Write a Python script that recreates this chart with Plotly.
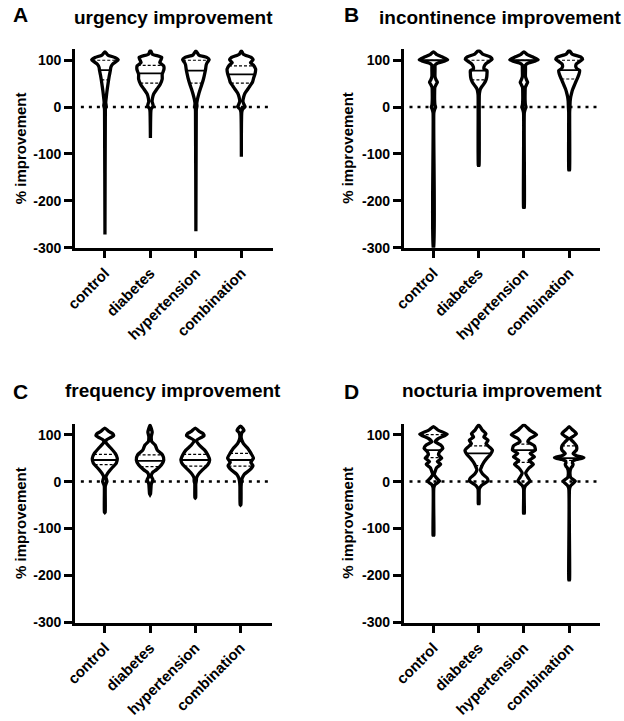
import numpy as np
import plotly.graph_objects as go

categories = ["control", "diabetes", "hypertension", "combination"]
panel_titles = ["urgency improvement", "incontinence improvement",
                "frequency improvement", "nocturia improvement"]
panel_letters = ["A", "B", "C", "D"]
y_ticks = [-300, -200, -100, 0, 100]
y_tick_labels = ["-300", "-200", "-100", "0", "100"]

# violin outlines: (value levels, relative density half-width) per group
urgency_profiles = {
    "control": ([118, 111, 106, 101, 96, 91, 85, 78, 68, 58, 45, 33, 20, 10, 3, -3, -10, -272],
                [0, 3, 10, 13.5, 10.5, 7.5, 6, 5.5, 4.5, 3.7, 2.8, 2, 1.3, 0.8, 1.2, 0.5, 0.4, 0]),
    "diabetes": ([121, 113, 106, 100, 95, 88, 80, 70, 60, 49, 38, 28, 20, 12, 3, -4, -10, -66],
                 [0, 2, 11.5, 10.5, 9.5, 13.5, 13.7, 12, 12, 10, 6.5, 3.3, 2.2, 1.7, 2.8, 0.8, 0.4, 0]),
    "hypertension": ([120, 111, 106, 101, 95, 90, 80, 70, 60, 48, 38, 27, 17, 8, 2, -4, -10, -265],
                     [0, 3, 11, 13.5, 11.5, 10.5, 9.8, 8.8, 7.7, 6, 4.4, 2.8, 1.6, 0.9, 1.1, 0.5, 0.4, 0]),
    "combination": ([120, 113, 106, 101, 95, 90, 81, 72, 62, 53, 45, 38, 30, 22, 12, 5, 1, -4, -10, -106],
                    [0, 2, 10, 12, 9.3, 12, 14.5, 14, 12.5, 11.3, 8.7, 6.5, 3.8, 2.4, 1.6, 2.8, 3.8, 1.5, 0.5, 0]),
}
incontinence_profiles = {
    "control": ([118, 112, 106, 101, 98, 94, 90, 80, 65, 58, 53, 48, 42, 30, 15, 5, 0, -5, -12, -300],
                [0, 3.5, 10, 14.5, 11, 4.5, 1.8, 1.6, 1.6, 2.7, 4, 2.7, 1.4, 1.2, 1.2, 1.5, 2.2, 1.2, 0.4, 0.4]),
    "diabetes": ([121, 113, 107, 102, 97, 92, 86, 81, 78, 72, 64, 57, 50, 44, 38, 32, 25, -124, -126],
                 [0, 4, 11.7, 13.7, 10.5, 7.2, 5.5, 5.5, 8.5, 8.5, 8.2, 7.3, 5.5, 3.3, 1.6, 1, 0.6, 0.4, 0]),
    "hypertension": ([118, 112, 106, 101, 98, 94, 90, 80, 65, 58, 53, 48, 42, 30, 15, 5, 0, -5, -12, -214, -216],
                     [0, 3.5, 10, 14.5, 11, 4.5, 1.8, 1.6, 1.6, 2.7, 3.8, 2.7, 1.4, 1.2, 1.2, 1.5, 2.2, 1.2, 0.4, 0.4, 0]),
    "combination": ([121, 113, 107, 102, 97, 92, 86, 81, 78, 70, 62, 53, 45, 38, 30, 22, 12, 0, -10, -134, -136],
                    [0, 3, 11.7, 13.7, 10.5, 7.3, 6.8, 8.5, 10.7, 10, 8.5, 6.6, 5, 3.6, 2.5, 1.6, 1, 0.8, 0.5, 0.4, 0]),
}
frequency_profiles = {
    "control": ([114, 107, 102, 97.5, 93, 88, 81, 71, 60, 50, 39, 29, 18, 10, 4, 0, -5, -10, -65, -66],
                [0, 4, 8, 9, 5.2, 1.2, 1.8, 6.3, 10.7, 12.7, 11.7, 7.3, 3, 1.1, 1.8, 2.2, 1.2, 0.5, 0.4, 0]),
    "diabetes": ([120, 113, 105, 97, 90, 85, 78, 67, 57, 46, 36, 25, 19, 11, 4, -2, -6, -26, -28],
                 [0, 1.3, 2.2, 1.3, 1.3, 1.8, 5.2, 7.4, 12.7, 14, 11.7, 6.3, 2.4, 1.3, 3, 1.8, 1.2, 0.5, 0]),
    "hypertension": ([114, 107, 102, 97.5, 93, 88, 78, 67, 57, 46, 36, 25, 15, 8, 2, -5, -34, -35],
                     [0, 4, 8, 9, 5.2, 1.2, 4, 9.6, 12.7, 14.7, 12.7, 7.3, 3, 1.3, 1.1, 0.5, 0.4, 0]),
    "combination": ([118, 113, 109, 105, 100, 92, 81, 71, 60, 50, 41, 34, 25, 16, 8, 0, -10, -49, -50],
                    [0, 2.5, 3.5, 1.6, 0.8, 0.8, 3, 7.3, 10.7, 13.2, 10.5, 12.7, 9.5, 4, 1.8, 1, 0.6, 0.4, 0]),
}
nocturia_profiles = {
    "control": ([117, 109, 101, 92, 85, 78, 71, 64, 57, 50, 43, 37, 29, 22, 15, 8, 1, -6, -13, -114, -116],
                [0, 5.2, 14, 5.2, 1.8, 7.4, 9.6, 6.3, 5.2, 8.5, 4, 7.4, 3, 1.8, 0.8, 3, 6.3, 1.8, 0.4, 0.4, 0]),
    "diabetes": ([121, 109, 102, 95, 88, 81, 74, 67, 57, 50, 41, 32, 25, 16, 8, 2, -8, -15, -47, -49],
                 [0, 4, 7.4, 5.2, 9.6, 7.4, 10.7, 14, 11.7, 8.5, 5.2, 3, 1.8, 4, 8.5, 9.6, 3, 0.7, 0.4, 0]),
    "hypertension": ([121, 109, 100, 92, 85, 76, 67, 60, 53, 45, 37, 29, 18, 9, 1, -8, -15, -67, -69],
                     [0, 6.3, 12.9, 6.3, 4, 10.7, 11.7, 6.3, 10.7, 5.2, 9.6, 5.2, 1.8, 4, 6.3, 1.8, 0.4, 0.4, 0]),
    "combination": ([117, 111, 102, 95, 92, 85, 76, 67, 60, 55, 51, 47, 44, 40, 37, 33, 29, 18, 8, 1, -8, -15, -209, -211],
                    [0, 3, 7.4, 3, 0.8, 4, 7.4, 7.4, 4, 7.4, 15, 7.4, 4, 3.3, 4, 3.3, 1.8, 0.8, 1.8, 6.3, 1.8, 0.4, 0.4, 0]),
}

# median, lower quartile, upper quartile per group
urgency_stats = {"control": (79, 58, 100), "diabetes": (72, 51, 89),
                 "hypertension": (78, 51, 100), "combination": (70, 51, 88)}
incontinence_stats = {"control": (100, 90, 100), "diabetes": (78, 58, 100),
                      "hypertension": (100, 90, 100), "combination": (79, 60, 100)}
frequency_stats = {"control": (46, 36, 58), "diabetes": (44, 32, 57),
                   "hypertension": (46, 33, 58), "combination": (46, 33, 60)}
nocturia_stats = {"control": (67, 51, 100), "diabetes": (60, 34, 76),
                  "hypertension": (67, 41, 80), "combination": (50, 45, 76)}

profiles = [urgency_profiles, incontinence_profiles, frequency_profiles, nocturia_profiles]
stats = [urgency_stats, incontinence_stats, frequency_stats, nocturia_stats]

W, H = 624, 721
WIDTH_SCALE = 1 / 46.2  # density units -> category units
FONT = "Liberation Sans, Arial, sans-serif"

# plot areas in pixels: left, right, top, bottom
areas = [(66, 267, 50, 250.5), (400, 600, 50, 250.5),
         (66, 266, 428.6, 629.5), (400, 600, 428.6, 629.5)]

fig = go.Figure()
layout_axes = {}
for i in range(4):
    l, r, t, b = areas[i]
    xa = "xaxis" if i == 0 else f"xaxis{i+1}"
    ya = "yaxis" if i == 0 else f"yaxis{i+1}"
    xref = "x" if i == 0 else f"x{i+1}"
    yref = "y" if i == 0 else f"y{i+1}"
    layout_axes[xa] = dict(
        domain=[l / W, r / W], anchor=yref, range=[-0.66, 3.69],
        tickvals=list(range(len(categories))), ticktext=categories, tickangle=-45,
        ticks="outside", ticklen=8, tickwidth=2.5, tickcolor="black",
        showline=True, linewidth=2.5, linecolor="black", showgrid=False, zeroline=False,
        tickfont=dict(family=FONT, size=15, color="black", weight="bold"))
    layout_axes[ya] = dict(
        domain=[1 - b / H, 1 - t / H], anchor=xref, range=[-300, 123],
        tickvals=y_ticks, ticktext=y_tick_labels, ticks="outside", ticklen=8, tickwidth=2.5,
        tickcolor="black", showline=True, linewidth=2.5, linecolor="black",
        showgrid=False, zeroline=False,
        tickfont=dict(family=FONT, size=14, color="black", weight="bold"))

    # zero dotted line
    fig.add_shape(type="line", xref=f"{xref} domain", yref=yref, x0=0.03, x1=1.0, y0=0, y1=0,
                  line=dict(color="black", width=2.5, dash="3px,5px"))

    for j, cat in enumerate(categories):
        ys, ws = profiles[i][cat]
        ys = np.array(ys, dtype=float)
        ws = np.array(ws, dtype=float) * WIDTH_SCALE
        xs = np.concatenate([j + ws, (j - ws)[::-1]])
        yy = np.concatenate([ys, ys[::-1]])
        fig.add_trace(go.Scatter(x=xs, y=yy, mode="lines", fill="toself", fillcolor="white",
                                 line=dict(color="black", width=3.3, shape="spline", smoothing=0.5),
                                 xaxis=xref, yaxis=yref, hoverinfo="skip"))
        med, q1, q3 = stats[i][cat]
        order = np.argsort(ys)
        for val, dash, lw in [(med, "solid", 1.8), (q1, "3px,2px", 1.2), (q3, "3px,2px", 1.2)]:
            hw = np.interp(val, ys[order], ws[order])
            fig.add_trace(go.Scatter(x=[j - hw, j + hw], y=[val, val], mode="lines",
                                     line=dict(color="black", width=lw, dash=dash),
                                     xaxis=xref, yaxis=yref, hoverinfo="skip"))

annotations = []
letter_pos = [(11, 15), (347, 15), (11, 396), (347, 396)]
title_pos = [(166, 18), (498, 18), (166, 395), (500, 395)]
ytitle_pos = [(10, 150), (343, 150), (10, 529), (343, 529)]
for i in range(4):
    lx, ly = letter_pos[i]
    annotations.append(dict(x=lx / W, y=1 - ly / H, xref="paper", yref="paper", text=panel_letters[i],
                            showarrow=False, xanchor="center", yanchor="middle",
                            font=dict(family=FONT, size=21, color="black", weight="bold")))
    tx, ty = title_pos[i]
    annotations.append(dict(x=tx / W, y=1 - ty / H, xref="paper", yref="paper", text=panel_titles[i],
                            showarrow=False, xanchor="center", yanchor="middle",
                            font=dict(family=FONT, size=19, color="black", weight="bold")))
    yx, yy_ = ytitle_pos[i]
    annotations.append(dict(x=yx / W, y=1 - yy_ / H, xref="paper", yref="paper", text="% improvement",
                            showarrow=False, xanchor="center", yanchor="middle", textangle=-90,
                            font=dict(family=FONT, size=15, color="black", weight="bold")))

fig.update_layout(width=W, height=H, margin=dict(l=0, r=0, t=0, b=0),
                  plot_bgcolor="white", paper_bgcolor="white", showlegend=False,
                  annotations=annotations, **layout_axes)
fig.write_html("out.html", config={"displayModeBar": False},
               post_script="document.body.style.margin='0';document.body.style.overflow='hidden';")
